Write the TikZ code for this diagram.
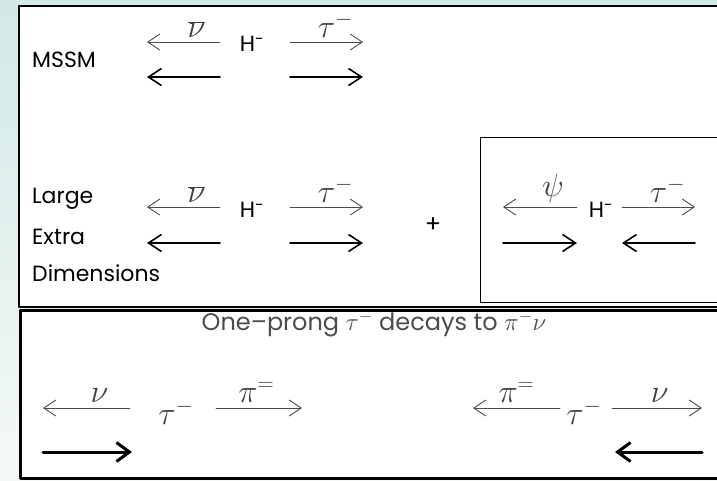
\documentclass[tikz,border=0pt]{standalone}
\usepackage{fontspec}
\setmainfont{Poppins}
\usetikzlibrary{arrows.meta}

\definecolor{bgtop}{RGB}{210,233,231}
\definecolor{bgbot}{RGB}{244,249,246}

\begin{document}
\begin{tikzpicture}[x=1pt,y=-1pt,line cap=round,line join=round,
  lbl/.style={font=\fontsize{22}{24}\selectfont,anchor=base west,inner sep=0pt},
  hname/.style={font=\fontsize{22}{24}\selectfont,inner sep=1pt},
  grk/.style={font=\fontsize{24}{26}\selectfont,scale=1.3,text=black!75,inner sep=0pt},
  thinarr/.style={draw=black!70,line width=0.9pt,-{Straight Barb[length=12pt,width=16pt]}},
  thickarr/.style={draw=black,line width=1.6pt,-{Straight Barb[length=13pt,width=17pt]}},
  boldarr/.style={draw=black,line width=3pt,-{Straight Barb[length=13pt,width=19pt]}}]
  \useasboundingbox (0,0) rectangle (717,480);
  \fill[top color=bgtop,bottom color=bgbot] (0,0) rectangle (717,480);
  % frames
  \draw[line width=2.5pt,fill=white] (19,6) rectangle (740,307);
  \draw[line width=3pt,fill=white] (20,310.5) rectangle (740,478);
  \draw[line width=1pt] (480,137) rectangle (740,302);
  % MSSM
  \coordinate (A1) at (220,42);
  \coordinate (A2) at (147,42);
  \coordinate (B1) at (290,42);
  \coordinate (B2) at (363,42);
  \coordinate (C1) at (220,77);
  \coordinate (C2) at (147,77);
  \coordinate (D1) at (290,77);
  \coordinate (D2) at (363,77);
  \node[lbl] (mssm) at (32,67) {MSSM};
  \node[hname] (HA) at (252,44) {H\textsuperscript{-}};
  \draw[thinarr] (A1) -- node[grk,above=3pt,xshift=10pt] (nuA) {$\overline{\nu}$} (A2);
  \draw[thinarr] (B1) -- node[grk,above=3pt,xshift=7pt] (tauA) {$\tau^{-}$} (B2);
  \draw[thickarr] (C1) -- (C2);
  \draw[thickarr] (D1) -- (D2);
  % Large Extra Dimensions
  \coordinate (E1) at (220,207);
  \coordinate (E2) at (147,207);
  \coordinate (F1) at (290,207);
  \coordinate (F2) at (363,207);
  \coordinate (G1) at (220,243);
  \coordinate (G2) at (147,243);
  \coordinate (K1) at (290,243);
  \coordinate (K2) at (363,243);
  \node[lbl] (large) at (32,203) {Large};
  \node[lbl] (extra) at (32,244) {Extra};
  \node[lbl] (dims) at (32,281) {Dimensions};
  \node[hname] (HB) at (252,210) {H\textsuperscript{-}};
  \draw[thinarr] (E1) -- node[grk,above=3pt,xshift=10pt] (nuB) {$\overline{\nu}$} (E2);
  \draw[thinarr] (F1) -- node[grk,above=3pt,xshift=7pt] (tauB) {$\tau^{-}$} (F2);
  \draw[thickarr] (G1) -- (G2);
  \draw[thickarr] (K1) -- (K2);
  \node[font=\fontsize{24}{26}\selectfont] (plus) at (433,225) {+};
  % inner box
  \coordinate (M1) at (577,207);
  \coordinate (M2) at (503,207);
  \coordinate (N1) at (622,207);
  \coordinate (N2) at (695,207);
  \coordinate (Q1) at (503,243);
  \coordinate (Q2) at (577,243);
  \coordinate (S1) at (695,243);
  \coordinate (S2) at (622,243);
  \node[hname] (HC) at (601,210) {H\textsuperscript{-}};
  \draw[thinarr] (M1) -- node[grk,above=3pt,xshift=10pt] (psi) {$\psi$} (M2);
  \draw[thinarr] (N1) -- node[grk,above=3pt,xshift=7pt] (tauC) {$\tau^{-}$} (N2);
  \draw[thickarr] (Q1) -- (Q2);
  \draw[thickarr] (S1) -- (S2);
  % tau decays
  \node[font=\fontsize{24}{26}\selectfont,text=black!70] (title) at (374,324)
    {One--prong $\tau^{-}$ decays to $\pi^{-}\nu$};
  \coordinate (T1) at (130,408);
  \coordinate (T2) at (43,408);
  \coordinate (U1) at (216,408);
  \coordinate (U2) at (302,408);
  \coordinate (V1) at (560,408);
  \coordinate (V2) at (473,408);
  \coordinate (W1) at (612,408);
  \coordinate (W2) at (702,408);
  \coordinate (X1) at (43,452);
  \coordinate (X2) at (132,452);
  \coordinate (Y1) at (702,452);
  \coordinate (Y2) at (615,452);
  \node[grk] (tauL) at (176,412) {$\tau^{-}$};
  \node[grk] (tauR) at (584,412) {$\tau^{-}$};
  \draw[thinarr] (T1) -- node[grk,above=4pt,xshift=10pt] (nuL) {$\nu$} (T2);
  \draw[thinarr] (U1) -- node[grk,above=4pt,xshift=-2pt] (piL) {$\pi^{=}$} (U2);
  \draw[thinarr] (V1) -- node[grk,above=4pt] (piR) {$\pi^{=}$} (V2);
  \draw[thinarr] (W1) -- node[grk,above=4pt,xshift=2pt] (nuR) {$\nu$} (W2);
  \draw[boldarr] (X1) -- (X2);
  \draw[boldarr] (Y1) -- (Y2);
\end{tikzpicture}
\end{document}
